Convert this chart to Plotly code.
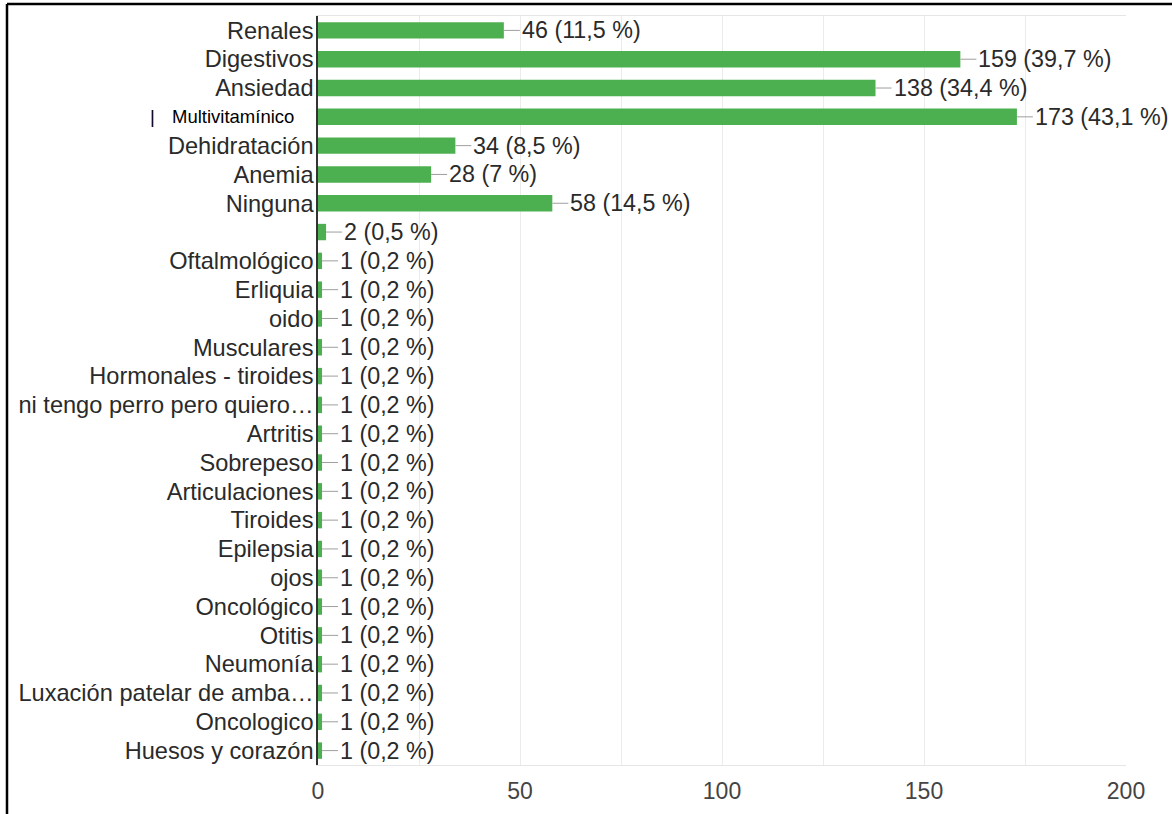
import plotly.graph_objects as go

categories = [
    "Renales", "Digestivos", "Ansiedad", "Multivitamínico", "Dehidratación",
    "Anemia", "Ninguna", "", "Oftalmológico", "Erliquia", "oido", "Musculares",
    "Hormonales - tiroides", "ni tengo perro pero quiero…", "Artritis", "Sobrepeso",
    "Articulaciones", "Tiroides", "Epilepsia", "ojos", "Oncológico", "Otitis",
    "Neumonía", "Luxación patelar de amba…", "Oncologico", "Huesos y corazón",
]
values = [46, 159, 138, 173, 34, 28, 58, 2] + [1] * 18
percents = ["11,5", "39,7", "34,4", "43,1", "8,5", "7", "14,5", "0,5"] + ["0,2"] * 18

x_ticks = [0, 50, 100, 150, 200]

W, H = 1172, 814
ML, MR, MT, MB = 318, 46, 16, 49
PW, PH = W - ML - MR, H - MT - MB

FONT = "Liberation Sans, Arial, sans-serif"
GREEN = "#4CAF50"
TXT = "#2a2a2a"

idx = list(range(len(categories)))
ticktext = [("" if c == "Multivitamínico" else c) for c in categories]

fig = go.Figure(go.Bar(
    x=values, y=idx, orientation="h",
    marker=dict(color=GREEN, line=dict(width=0)),
    hoverinfo="skip",
))

annotations = []
for i, (v, p) in enumerate(zip(values, percents)):
    annotations.append(dict(
        x=v, y=i, xref="x", yref="y",
        text=f"{v} ({p} %)", showarrow=True, arrowhead=0, arrowwidth=1,
        arrowcolor="#9e9e9e", ax=16, ay=0, xanchor="left", standoff=0,
        font=dict(family=FONT, size=23.3, color=TXT),
    ))

# edited label for Multivitamínico row
mv = categories.index("Multivitamínico")
annotations.append(dict(
    x=(296 - ML) / PW, y=mv, xref="paper", yref="y", xanchor="right",
    text="Multivitamínico", showarrow=False,
    font=dict(family=FONT, size=18.5, color="#000000"),
))
annotations.append(dict(
    x=(152 - ML) / PW, y=mv, xref="paper", yref="y", xanchor="center",
    text="|", showarrow=False,
    font=dict(family=FONT, size=18.5, color="#000000"),
))

shapes = [
    # outer black frame (top and left)
    dict(type="line", xref="paper", yref="paper",
         x0=(7 - ML) / PW, x1=(W + 2 - ML) / PW,
         y0=1 + (MT - 4) / PH, y1=1 + (MT - 4) / PH,
         line=dict(color="black", width=2.5)),
    dict(type="line", xref="paper", yref="paper",
         x0=(7 - ML) / PW, x1=(7 - ML) / PW,
         y0=1 + (MT - 4) / PH, y1=-(MB + 2) / PH,
         line=dict(color="black", width=2.5)),
]

fig.update_layout(
    width=W, height=H,
    margin=dict(l=ML, r=MR, t=MT, b=MB, pad=0, autoexpand=False),
    paper_bgcolor="white", plot_bgcolor="white",
    bargap=0.43, showlegend=False,
    font=dict(family=FONT, size=23, color=TXT),
    annotations=annotations, shapes=shapes,
    xaxis=dict(
        range=[0, 200], tickvals=x_ticks, ticktext=[str(t) for t in x_ticks],
        showgrid=False, zeroline=False, automargin=False,
        showline=True, mirror=True, linecolor="#e6e6e6", linewidth=1,
        ticks="", tickfont=dict(family=FONT, size=23, color="#444444"),
        ticklabelstandoff=5,
        minor=dict(dtick=25, tick0=0, showgrid=True, gridcolor="#ebebeb", gridwidth=1),
    ),
    yaxis=dict(
        tickvals=idx, ticktext=ticktext,
        autorange=False, range=[len(categories) - 0.5, -0.5],
        showgrid=False, zeroline=False, automargin=False,
        showline=True, linecolor="#333333", linewidth=1.5,
        ticks="", tickfont=dict(family=FONT, size=23.6, color=TXT),
        ticklabelstandoff=-2,
    ),
)

fig.write_html("out.html")
